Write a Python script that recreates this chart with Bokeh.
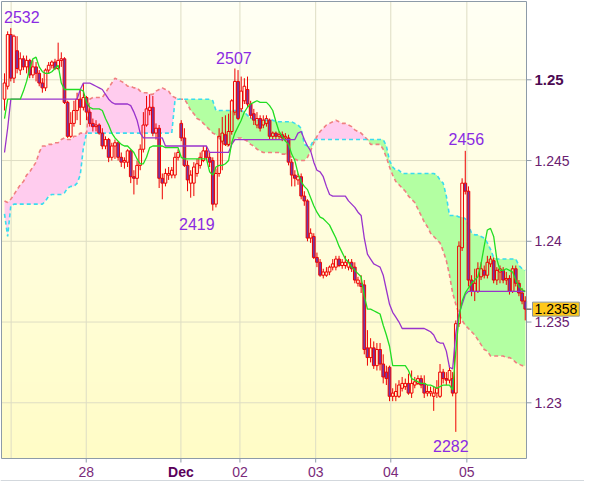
import numpy as np
from bokeh.plotting import figure
from bokeh.models import Range1d, Label
from bokeh.embed import file_html
from bokeh.resources import INLINE

# ---------------- data (hourly EUR/USD candles, index = hour number) ----------------
open_ = [
    1.2488, 1.2496, 1.2528, 1.2501, 1.2518, 1.2506, 1.2513, 1.2508, 1.2512, 1.2503,
    1.2508, 1.2504, 1.2498, 1.2495, 1.2506, 1.2509, 1.2511, 1.2507, 1.2512, 1.2513,
    1.2486, 1.2465, 1.2473, 1.2481, 1.2488, 1.2483, 1.2489, 1.2480, 1.2473, 1.2471,
    1.2472, 1.2467, 1.2459, 1.2463, 1.2452, 1.2459, 1.2461, 1.2452, 1.2449, 1.2449,
    1.2456, 1.2440, 1.2439, 1.2447, 1.2457, 1.2472, 1.2481, 1.2483, 1.2467, 1.2470,
    1.2439, 1.2436, 1.2441, 1.2441, 1.2441, 1.2452, 1.2473, 1.2464, 1.2447, 1.2436,
    1.2436, 1.2442, 1.2447, 1.2450, 1.2456, 1.2452, 1.2450, 1.2423, 1.2442, 1.2462,
    1.2466, 1.2460, 1.2468, 1.2480, 1.2499, 1.2482, 1.2487, 1.2494, 1.2485, 1.2479,
    1.2472, 1.2476, 1.2472, 1.2473, 1.2475, 1.2465, 1.2467, 1.2465, 1.2466, 1.2464,
    1.2464, 1.2449, 1.2441, 1.2438, 1.2440, 1.2428, 1.2425, 1.2402, 1.2403, 1.2390,
    1.2387, 1.2379, 1.2379, 1.2381, 1.2384, 1.2384, 1.2389, 1.2385, 1.2385, 1.2384,
    1.2387, 1.2384, 1.2374, 1.2374, 1.2373, 1.2334, 1.2328, 1.2334, 1.2323, 1.2333,
    1.2324, 1.2319, 1.2322, 1.2304, 1.2304, 1.2304, 1.2309, 1.2310, 1.2312, 1.2306,
    1.2311, 1.2312, 1.2315, 1.2312, 1.2306, 1.2306, 1.2304, 1.2306, 1.2304, 1.2319,
    1.2315, 1.2314, 1.2315, 1.2306, 1.2349, 1.2396, 1.2436, 1.2431, 1.2376, 1.2369,
    1.2369, 1.2378, 1.2382, 1.2379, 1.2386, 1.2388, 1.2376, 1.2381, 1.2382, 1.2376,
    1.2377, 1.2369, 1.2383, 1.2374, 1.2368, 1.2363,
]
close = [
    1.2498, 1.2528, 1.2501, 1.2527, 1.2507, 1.2513, 1.2508, 1.2512, 1.2503, 1.2508,
    1.2504, 1.2498, 1.2495, 1.2506, 1.2509, 1.2511, 1.2507, 1.2512, 1.2513, 1.2486,
    1.2465, 1.2473, 1.2481, 1.2488, 1.2483, 1.2489, 1.2480, 1.2473, 1.2471, 1.2472,
    1.2467, 1.2459, 1.2463, 1.2452, 1.2459, 1.2461, 1.2452, 1.2449, 1.2450, 1.2456,
    1.2440, 1.2439, 1.2447, 1.2457, 1.2472, 1.2482, 1.2483, 1.2467, 1.2470, 1.2439,
    1.2436, 1.2442, 1.2442, 1.2444, 1.2452, 1.2455, 1.2464, 1.2447, 1.2438, 1.2441,
    1.2446, 1.2448, 1.2452, 1.2456, 1.2452, 1.2449, 1.2423, 1.2442, 1.2465, 1.2467,
    1.2460, 1.2468, 1.2487, 1.2499, 1.2476, 1.2493, 1.2496, 1.2485, 1.2478, 1.2475,
    1.2476, 1.2470, 1.2475, 1.2476, 1.2465, 1.2467, 1.2465, 1.2466, 1.2464, 1.2465,
    1.2449, 1.2441, 1.2439, 1.2440, 1.2428, 1.2425, 1.2402, 1.2405, 1.2390, 1.2387,
    1.2379, 1.2381, 1.2381, 1.2384, 1.2386, 1.2389, 1.2385, 1.2387, 1.2387, 1.2387,
    1.2383, 1.2376, 1.2376, 1.2372, 1.2333, 1.2328, 1.2334, 1.2323, 1.2333, 1.2324,
    1.2316, 1.2315, 1.2304, 1.2306, 1.2307, 1.2311, 1.2312, 1.2312, 1.2306, 1.2312,
    1.2313, 1.2315, 1.2311, 1.2306, 1.2307, 1.2307, 1.2306, 1.2309, 1.2319, 1.2315,
    1.2314, 1.2320, 1.2306, 1.2349, 1.2397, 1.2436, 1.2431, 1.2376, 1.2369, 1.2374,
    1.2383, 1.2383, 1.2379, 1.2387, 1.2389, 1.2376, 1.2382, 1.2383, 1.2376, 1.2377,
    1.2369, 1.2383, 1.2374, 1.2368, 1.2363, 1.2358,
]
high = [
    1.2504, 1.2530, 1.2532, 1.2528, 1.2527, 1.2517, 1.2515, 1.2515, 1.2513, 1.2512,
    1.2511, 1.2506, 1.2501, 1.2507, 1.2511, 1.2512, 1.2513, 1.2523, 1.2517, 1.2514,
    1.2487, 1.2480, 1.2487, 1.2492, 1.2494, 1.2498, 1.2490, 1.2483, 1.2476, 1.2475,
    1.2473, 1.2470, 1.2465, 1.2464, 1.2461, 1.2463, 1.2462, 1.2455, 1.2452, 1.2457,
    1.2457, 1.2444, 1.2450, 1.2460, 1.2480, 1.2490, 1.2491, 1.2490, 1.2473, 1.2472,
    1.2442, 1.2445, 1.2446, 1.2446, 1.2455, 1.2457, 1.2475, 1.2470, 1.2450, 1.2444,
    1.2449, 1.2451, 1.2455, 1.2459, 1.2459, 1.2455, 1.2452, 1.2445, 1.2470, 1.2477,
    1.2478, 1.2479, 1.2488, 1.2507, 1.2506, 1.2502, 1.2501, 1.2502, 1.2487, 1.2482,
    1.2480, 1.2478, 1.2478, 1.2478, 1.2476, 1.2468, 1.2468, 1.2468, 1.2468, 1.2467,
    1.2466, 1.2451, 1.2444, 1.2442, 1.2442, 1.2431, 1.2426, 1.2408, 1.2405, 1.2393,
    1.2389, 1.2383, 1.2384, 1.2385, 1.2389, 1.2391, 1.2391, 1.2389, 1.2391, 1.2389,
    1.2389, 1.2387, 1.2378, 1.2379, 1.2376, 1.2345, 1.2340, 1.2338, 1.2337, 1.2337,
    1.2330, 1.2323, 1.2323, 1.2309, 1.2312, 1.2314, 1.2316, 1.2315, 1.2318, 1.2320,
    1.2316, 1.2317, 1.2317, 1.2317, 1.2311, 1.2310, 1.2310, 1.2314, 1.2324, 1.2321,
    1.2319, 1.2323, 1.2319, 1.2351, 1.2400, 1.2439, 1.2456, 1.2434, 1.2379, 1.2383,
    1.2387, 1.2387, 1.2385, 1.2391, 1.2391, 1.2390, 1.2384, 1.2385, 1.2384, 1.2381,
    1.2379, 1.2385, 1.2385, 1.2376, 1.2371, 1.2366,
]
low = [
    1.2481, 1.2494, 1.2499, 1.2498, 1.2504, 1.2503, 1.2506, 1.2504, 1.2501, 1.2501,
    1.2499, 1.2496, 1.2492, 1.2493, 1.2504, 1.2507, 1.2506, 1.2506, 1.2508, 1.2485,
    1.2464, 1.2464, 1.2471, 1.2475, 1.2472, 1.2481, 1.2475, 1.2471, 1.2468, 1.2468,
    1.2466, 1.2457, 1.2457, 1.2449, 1.2450, 1.2451, 1.2450, 1.2446, 1.2445, 1.2446,
    1.2436, 1.2429, 1.2435, 1.2444, 1.2455, 1.2471, 1.2478, 1.2465, 1.2463, 1.2433,
    1.2426, 1.2434, 1.2438, 1.2439, 1.2439, 1.2450, 1.2462, 1.2446, 1.2431, 1.2427,
    1.2428, 1.2440, 1.2445, 1.2449, 1.2450, 1.2446, 1.2419, 1.2421, 1.2440, 1.2444,
    1.2459, 1.2459, 1.2466, 1.2478, 1.2475, 1.2480, 1.2485, 1.2483, 1.2476, 1.2472,
    1.2470, 1.2468, 1.2470, 1.2471, 1.2463, 1.2463, 1.2463, 1.2463, 1.2462, 1.2462,
    1.2447, 1.2434, 1.2434, 1.2435, 1.2426, 1.2422, 1.2400, 1.2399, 1.2389, 1.2384,
    1.2378, 1.2377, 1.2378, 1.2379, 1.2382, 1.2382, 1.2384, 1.2383, 1.2383, 1.2382,
    1.2381, 1.2374, 1.2372, 1.2368, 1.2330, 1.2323, 1.2325, 1.2321, 1.2320, 1.2320,
    1.2312, 1.2311, 1.2301, 1.2301, 1.2301, 1.2303, 1.2307, 1.2308, 1.2305, 1.2303,
    1.2309, 1.2311, 1.2309, 1.2303, 1.2304, 1.2304, 1.2295, 1.2303, 1.2303, 1.2312,
    1.2311, 1.2312, 1.2304, 1.2282, 1.2347, 1.2394, 1.2429, 1.2372, 1.2366, 1.2363,
    1.2368, 1.2376, 1.2377, 1.2377, 1.2384, 1.2374, 1.2373, 1.2374, 1.2374, 1.2373,
    1.2367, 1.2368, 1.2372, 1.2366, 1.2361, 1.2351,
]
# Ichimoku lines as drawn on the chart (one value per candle)
tenkan = [
    1.2476, 1.2488, 1.2488, 1.2488, 1.2488, 1.2488, 1.2493, 1.2499, 1.2507, 1.2513,
    1.2514, 1.2508, 1.2505, 1.2504, 1.2504, 1.2505, 1.2507, 1.2509, 1.2498, 1.2494,
    1.2494, 1.2494, 1.2494, 1.2494, 1.2494, 1.2493, 1.2486, 1.2483, 1.2482, 1.2482,
    1.2482, 1.2481, 1.2476, 1.2472, 1.2467, 1.2464, 1.2462, 1.2460, 1.2459, 1.2459,
    1.2457, 1.2455, 1.2451, 1.2448, 1.2448, 1.2452, 1.2458, 1.2459, 1.2459, 1.2459,
    1.2459, 1.2458, 1.2458, 1.2458, 1.2458, 1.2458, 1.2452, 1.2451, 1.2451, 1.2451,
    1.2451, 1.2451, 1.2451, 1.2451, 1.2451, 1.2443, 1.2441, 1.2446, 1.2447, 1.2447,
    1.2448, 1.2450, 1.2461, 1.2467, 1.2471, 1.2475, 1.2480, 1.2483, 1.2485, 1.2486,
    1.2487, 1.2486, 1.2486, 1.2486, 1.2484, 1.2481, 1.2474, 1.2468, 1.2465, 1.2462,
    1.2460, 1.2454, 1.2450, 1.2442, 1.2437, 1.2434, 1.2432, 1.2427, 1.2422, 1.2418,
    1.2415, 1.2414, 1.2412, 1.2410, 1.2406, 1.2402, 1.2397, 1.2393, 1.2389, 1.2387,
    1.2384, 1.2382, 1.2380, 1.2378, 1.2366, 1.2358, 1.2358, 1.2357, 1.2356, 1.2355,
    1.2348, 1.2342, 1.2335, 1.2323, 1.2323, 1.2323, 1.2323, 1.2323, 1.2320, 1.2315,
    1.2314, 1.2313, 1.2312, 1.2312, 1.2311, 1.2311, 1.2310, 1.2309, 1.2310, 1.2311,
    1.2311, 1.2311, 1.2308, 1.2332, 1.2353, 1.2363, 1.2368, 1.2371, 1.2374, 1.2376,
    1.2378, 1.2386, 1.2397, 1.2407, 1.2408, 1.2403, 1.2389, 1.2382, 1.2382, 1.2383,
    1.2382, 1.2381, 1.2376, 1.2372, 1.2370, 1.2369,
]
kijun = [
    1.2455, 1.2470, 1.2488, 1.2488, 1.2488, 1.2488, 1.2488, 1.2488, 1.2488, 1.2488,
    1.2488, 1.2488, 1.2488, 1.2488, 1.2488, 1.2488, 1.2488, 1.2488, 1.2488, 1.2488,
    1.2488, 1.2488, 1.2488, 1.2488, 1.2494, 1.2498, 1.2498, 1.2498, 1.2497, 1.2496,
    1.2495, 1.2494, 1.2491, 1.2488, 1.2486, 1.2485, 1.2485, 1.2485, 1.2485, 1.2485,
    1.2484, 1.2480, 1.2475, 1.2467, 1.2464, 1.2464, 1.2464, 1.2464, 1.2464, 1.2464,
    1.2464, 1.2459, 1.2459, 1.2459, 1.2459, 1.2459, 1.2459, 1.2459, 1.2459, 1.2459,
    1.2459, 1.2459, 1.2459, 1.2459, 1.2459, 1.2455, 1.2455, 1.2455, 1.2455, 1.2455,
    1.2455, 1.2455, 1.2460, 1.2463, 1.2463, 1.2463, 1.2463, 1.2463, 1.2463, 1.2463,
    1.2463, 1.2463, 1.2463, 1.2463, 1.2463, 1.2463, 1.2463, 1.2463, 1.2463, 1.2463,
    1.2463, 1.2463, 1.2463, 1.2467, 1.2468, 1.2463, 1.2459, 1.2456, 1.2449, 1.2444,
    1.2443, 1.2440, 1.2434, 1.2429, 1.2428, 1.2428, 1.2428, 1.2428, 1.2428, 1.2425,
    1.2423, 1.2421, 1.2418, 1.2416, 1.2402, 1.2392, 1.2389, 1.2386, 1.2385, 1.2384,
    1.2379, 1.2370, 1.2361, 1.2356, 1.2353, 1.2350, 1.2346, 1.2346, 1.2346, 1.2346,
    1.2346, 1.2346, 1.2346, 1.2346, 1.2345, 1.2344, 1.2342, 1.2338, 1.2337, 1.2337,
    1.2332, 1.2322, 1.2321, 1.2343, 1.2355, 1.2361, 1.2367, 1.2369, 1.2369, 1.2369,
    1.2369, 1.2369, 1.2369, 1.2369, 1.2369, 1.2369, 1.2369, 1.2369, 1.2369, 1.2369,
    1.2369, 1.2369, 1.2369, 1.2369, 1.2369, 1.2369,
]
span_a = [
    1.2417, 1.2403, 1.2422, 1.2423, 1.2423, 1.2423, 1.2423, 1.2423, 1.2423, 1.2423,
    1.2423, 1.2423, 1.2423, 1.2425, 1.2428, 1.2429, 1.2429, 1.2429, 1.2429, 1.2430,
    1.2433, 1.2434, 1.2434, 1.2436, 1.2441, 1.2458, 1.2467, 1.2467, 1.2467, 1.2467,
    1.2467, 1.2467, 1.2467, 1.2467, 1.2467, 1.2467, 1.2467, 1.2467, 1.2467, 1.2467,
    1.2467, 1.2467, 1.2467, 1.2467, 1.2467, 1.2467, 1.2467, 1.2467, 1.2467, 1.2467,
    1.2467, 1.2467, 1.2467, 1.2467, 1.2487, 1.2488, 1.2488, 1.2488, 1.2488, 1.2488,
    1.2488, 1.2488, 1.2488, 1.2488, 1.2488, 1.2488, 1.2487, 1.2481, 1.2481, 1.2481,
    1.2481, 1.2481, 1.2481, 1.2481, 1.2481, 1.2481, 1.2480, 1.2478, 1.2476, 1.2476,
    1.2475, 1.2475, 1.2475, 1.2475, 1.2475, 1.2475, 1.2474, 1.2474, 1.2474, 1.2474,
    1.2474, 1.2474, 1.2473, 1.2472, 1.2470, 1.2460, 1.2459, 1.2459, 1.2463, 1.2463,
    1.2463, 1.2463, 1.2463, 1.2463, 1.2463, 1.2463, 1.2463, 1.2463, 1.2463, 1.2463,
    1.2463, 1.2463, 1.2463, 1.2463, 1.2463, 1.2463, 1.2463, 1.2463, 1.2463, 1.2463,
    1.2463, 1.2459, 1.2450, 1.2446, 1.2444, 1.2444, 1.2442, 1.2442, 1.2442, 1.2442,
    1.2442, 1.2442, 1.2442, 1.2442, 1.2442, 1.2442, 1.2442, 1.2441, 1.2438, 1.2436,
    1.2428, 1.2416, 1.2416, 1.2416, 1.2415, 1.2415, 1.2414, 1.2410, 1.2405, 1.2404,
    1.2404, 1.2403, 1.2402, 1.2399, 1.2395, 1.2390, 1.2389, 1.2389, 1.2389, 1.2389,
    1.2389, 1.2389, 1.2389, 1.2385, 1.2383, 1.2382,
]
span_b = [
    1.2425, 1.2424, 1.2426, 1.2429, 1.2432, 1.2435, 1.2437, 1.2441, 1.2443, 1.2446,
    1.2449, 1.2455, 1.2459, 1.2459, 1.2460, 1.2460, 1.2461, 1.2461, 1.2463, 1.2464,
    1.2463, 1.2463, 1.2465, 1.2465, 1.2467, 1.2467, 1.2467, 1.2488, 1.2489, 1.2489,
    1.2489, 1.2489, 1.2492, 1.2495, 1.2498, 1.2501, 1.2500, 1.2499, 1.2498, 1.2496,
    1.2496, 1.2495, 1.2495, 1.2493, 1.2492, 1.2492, 1.2491, 1.2491, 1.2493, 1.2494,
    1.2495, 1.2494, 1.2493, 1.2490, 1.2489, 1.2488, 1.2488, 1.2488, 1.2485, 1.2481,
    1.2479, 1.2476, 1.2475, 1.2473, 1.2471, 1.2469, 1.2467, 1.2466, 1.2464, 1.2461,
    1.2459, 1.2459, 1.2461, 1.2463, 1.2464, 1.2464, 1.2463, 1.2462, 1.2460, 1.2459,
    1.2457, 1.2456, 1.2455, 1.2455, 1.2455, 1.2455, 1.2455, 1.2455, 1.2454, 1.2454,
    1.2453, 1.2452, 1.2451, 1.2450, 1.2450, 1.2450, 1.2452, 1.2456, 1.2461, 1.2465,
    1.2468, 1.2470, 1.2472, 1.2473, 1.2474, 1.2475, 1.2474, 1.2473, 1.2473, 1.2472,
    1.2471, 1.2469, 1.2468, 1.2467, 1.2465, 1.2463, 1.2460, 1.2460, 1.2460, 1.2460,
    1.2457, 1.2452, 1.2446, 1.2441, 1.2437, 1.2435, 1.2433, 1.2431, 1.2428, 1.2426,
    1.2424, 1.2420, 1.2416, 1.2412, 1.2409, 1.2405, 1.2403, 1.2401, 1.2399, 1.2394,
    1.2388, 1.2379, 1.2368, 1.2361, 1.2355, 1.2351, 1.2348, 1.2346, 1.2344, 1.2342,
    1.2339, 1.2336, 1.2333, 1.2332, 1.2329, 1.2329, 1.2329, 1.2329, 1.2329, 1.2328,
    1.2328, 1.2327, 1.2325, 1.2324, 1.2323, 1.2323,
]
# axis ticks (x in candle-index units)
x_tick_pos = [25.9, 55.9, 74.6, 98.6, 122.4, 146.5]
x_tick_labels = ["28", "Dec", "02", "03", "04", "05"]
x_grid_extra = [2.1]
y_ticks = [1.23, 1.235, 1.24, 1.245, 1.25]
y_tick_labels = ["1.23", "1.235", "1.24", "1.245", "1.25"]
bold_labels = {"Dec", "1.25"}

# ---------------- layout (pixels) ----------------
W, H = 584, 481
PL, PR = 1, 526        # data area left / right pixel
PT, PB = 1, 458        # data area top / bottom pixel
X0, X1 = -0.95, 165.4  # index range shown in the data area
Y1 = 1.254848          # price at top edge
PX_PER_PRICE = 16150.0
Y0 = Y1 - (PB - PT) / PX_PER_PRICE
ux = (X1 - X0) / (PR - PL)
uy = 1.0 / PX_PER_PRICE
FX0, FX1 = X0 - PL * ux, X1 + (W - PR) * ux
FY0, FY1 = Y0 - (H - PB) * uy, Y1 + PT * uy

FONT = "Liberation Sans"
GRAY = "#8d9ba8"

o = np.array(open_); c = np.array(close); h = np.array(high); l = np.array(low)
sa = np.array(span_a); sb = np.array(span_b)
idx = np.arange(len(c))

p = figure(width=W, height=H, output_backend="svg", toolbar_location=None,
           title=None, x_range=Range1d(FX0, FX1), y_range=Range1d(FY0, FY1),
           x_axis_location=None, y_axis_location=None,
           min_border=0, min_border_left=0, min_border_right=0,
           min_border_top=0, min_border_bottom=0)
p.background_fill_color = "white"
p.border_fill_color = "white"
p.outline_line_color = None
p.xgrid.visible = False
p.ygrid.visible = False

# background gradient of the data area (style only)
n = 240
img = np.zeros((n, 1), dtype=np.uint32)
view = img.view(dtype=np.uint8).reshape((n, 1, 4))
t = np.linspace(0.0, 1.0, n)
view[:, 0, 0] = 255
view[:, 0, 1] = np.round(252 + 3 * t).astype(np.uint8)
view[:, 0, 2] = np.round(198 + 46 * t).astype(np.uint8)
view[:, 0, 3] = 255
p.image_rgba(image=[img], x=X0, y=Y0, dw=X1 - X0, dh=Y1 - Y0)

# grid lines
gx = x_grid_extra + x_tick_pos
p.segment(x0=gx, y0=[Y0] * len(gx), x1=gx, y1=[Y1] * len(gx),
          line_color="#deddc4", line_width=1)
p.segment(x0=[X0] * len(y_ticks), y0=y_ticks, x1=[X1] * len(y_ticks), y1=y_ticks,
          line_color="#deddc4", line_width=1)

# cloud
top = np.maximum(sa, sb)
p.varea(x=idx, y1=sb, y2=top, fill_color="#b3ffa2", fill_alpha=1.0)
p.varea(x=idx, y1=sa, y2=top, fill_color="#ffccee", fill_alpha=1.0)
p.line(idx, sb, line_color="#f08080", line_width=1.6, line_dash="4 3")
p.line(idx, sa, line_color="#3adcee", line_width=1.6, line_dash="4 3")

# candles
RED = "#ee0000"
btop = np.maximum(o, c); bbot = np.minimum(o, c)
p.segment(x0=idx, y0=btop, x1=idx, y1=h, line_color=RED, line_width=1)
p.segment(x0=idx, y0=l, x1=idx, y1=bbot, line_color=RED, line_width=1)
bull = c >= o
bear = ~bull
p.vbar(x=idx[bull], width=0.85, top=btop[bull], bottom=bbot[bull],
       fill_alpha=0.0, line_color=RED, line_width=1)
p.vbar(x=idx[bear], width=0.85, top=btop[bear], bottom=bbot[bear],
       fill_color="#7038a8", line_color=RED, line_width=1)

# tenkan / kijun
p.line(idx, kijun, line_color="#9933cc", line_width=1.3)
p.line(idx, tenkan, line_color="#22dd22", line_width=1.3)

# frame and axes (drawn by hand so the labels can be styled one by one)
p.segment(x0=[X0, X0, X1, X0], y0=[Y0, Y1, Y0, Y0], x1=[X0, X1, X1, X1], y1=[Y1, Y1, Y1, Y0],
          line_color=GRAY, line_width=1)
p.segment(x0=[FX0], y0=[FY0 + 0.5 * uy], x1=[FX1], y1=[FY0 + 0.5 * uy],
          line_color="#a6b0ba", line_width=1)
p.segment(x0=[X1] * len(y_ticks), y0=y_ticks, x1=[X1 + 5 * ux] * len(y_ticks), y1=y_ticks,
          line_color=GRAY, line_width=1)
p.segment(x0=x_tick_pos, y0=[Y0] * len(x_tick_pos), x1=x_tick_pos,
          y1=[Y0 - 4 * uy] * len(x_tick_pos), line_color=GRAY, line_width=1)

for v, s in zip(y_ticks, y_tick_labels):
    b = s in bold_labels
    p.add_layout(Label(x=X1, y=v, x_offset=8, text=s, text_font=FONT,
                       text_font_size="15px" if b else "14px",
                       text_font_style="bold" if b else "normal",
                       text_color="#4c0a52" if b else "#6a2070",
                       text_align="left", text_baseline="middle"))
for v, s in zip(x_tick_pos, x_tick_labels):
    b = s in bold_labels
    p.add_layout(Label(x=v, y=Y0, y_offset=-13, text=s, text_font=FONT,
                       text_font_size="14px",
                       text_font_style="bold" if b else "normal",
                       text_color="#5a005a" if b else "#7a2a7a",
                       text_align="center", text_baseline="middle"))

# last price marker and box
p.segment(x0=[X1], y0=[c[-1]], x1=[X1 + 5 * ux], y1=[c[-1]], line_color="#333333", line_width=1)
p.add_layout(Label(x=X1, y=c[-1], x_offset=6, text=f"{c[-1]:.4f}",
                   text_font=FONT, text_font_size="14px", text_color="#000000",
                   text_align="left", text_baseline="middle",
                   background_fill_color="#ffc81a", border_line_color="#8a96a0",
                   padding=2))

# extreme annotations (offsets in pixels from the marked high / low)
def pip_text(v):
    return f"{int(round(v * 10000)) % 10000:04d}"

ann = []
i_hi = int(np.argmax(h)); ann.append((i_hi, h[i_hi], 11, 11))
i_lo = int(np.argmin(l)); ann.append((i_lo, l[i_lo], -5, -14))
i2 = 56 + int(np.argmax(h[56:85])); ann.append((i2, h[i2], -1, 10))
i3 = 56 + int(np.argmin(l[56:85])); ann.append((i3, l[i3], -16, -13))
i4 = 120 + int(np.argmax(h[120:])); ann.append((i4, h[i4], 1, 12))
for i, v, dx, dy in ann:
    p.add_layout(Label(x=int(i), y=float(v), x_offset=dx, y_offset=dy, text=pip_text(v),
                       text_font=FONT, text_font_size="16px", text_color="#8a2be2",
                       text_align="center", text_baseline="middle"))

open("out.html", "w").write(file_html(p, INLINE))
